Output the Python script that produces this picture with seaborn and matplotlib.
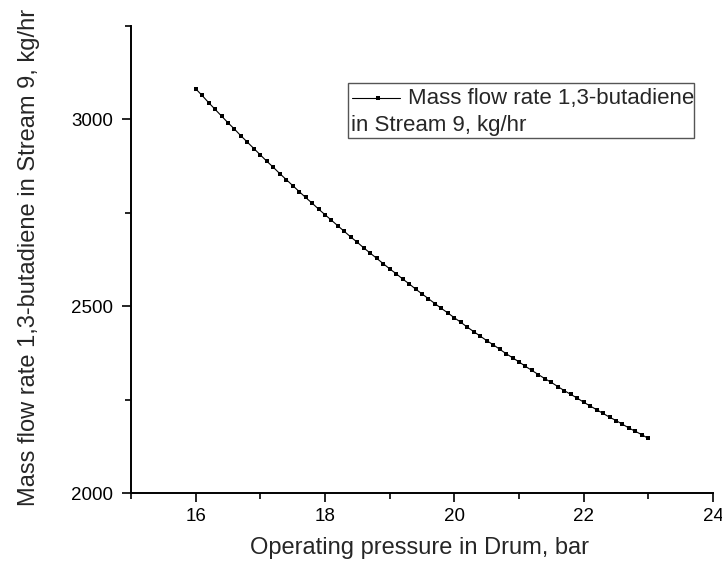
import matplotlib
matplotlib.use("Agg")
import matplotlib.pyplot as plt
import seaborn as sns
import pandas as pd
from matplotlib.lines import Line2D
from matplotlib.patches import Rectangle
from matplotlib.ticker import MultipleLocator

pressure = [round(16 + 0.1 * i, 1) for i in range(71)]
mass_flow = [3082, 3064, 3045, 3027, 3009, 2991, 2974, 2956, 2939, 2922,
             2905, 2888, 2872, 2855, 2839, 2823, 2807, 2791, 2776, 2760,
             2745, 2730, 2715, 2700, 2685, 2671, 2656, 2642, 2628, 2614,
             2600, 2587, 2573, 2560, 2546, 2533, 2520, 2507, 2494, 2482,
             2469, 2457, 2444, 2432, 2420, 2408, 2397, 2385, 2373, 2362,
             2351, 2339, 2328, 2317, 2306, 2296, 2285, 2274, 2264, 2254,
             2243, 2233, 2223, 2213, 2203, 2194, 2184, 2174, 2165, 2156,
             2146]
x_label = "Operating pressure in Drum, bar"
y_label = "Mass flow rate 1,3-butadiene in Stream 9, kg/hr"
legend_line1 = "Mass flow rate 1,3-butadiene"
legend_line2 = "in Stream 9, kg/hr"

sns.set_style("ticks")
plt.rcParams['font.family'] = ['Liberation Sans', 'DejaVu Sans']

df = pd.DataFrame({"p": pressure, "m": mass_flow})

fig = plt.figure(figsize=(7.22, 5.69), dpi=100)
ax = fig.add_axes([131 / 722, 1 - 493 / 569, (713 - 131) / 722, (493 - 26) / 569])

sns.lineplot(data=df, x="p", y="m", ax=ax, color="black", linewidth=0.8,
             marker="s", markersize=2.6, markeredgewidth=0, legend=False)

ax.set_xlim(15, 24)
ax.set_ylim(2000, 3250)
ax.xaxis.set_major_locator(MultipleLocator(2))
ax.xaxis.set_minor_locator(MultipleLocator(1))
ax.yaxis.set_major_locator(MultipleLocator(500))
ax.yaxis.set_minor_locator(MultipleLocator(250))
ax.set_xticks([16, 18, 20, 22, 24])
ax.set_yticks([2000, 2500, 3000])
ax.tick_params(axis="both", which="major", direction="out", length=6.5, width=1.2,
               labelsize=13.5, color="black", labelcolor="black")
ax.tick_params(axis="x", which="major", pad=4.5)
ax.tick_params(axis="y", which="major", pad=6.5)
ax.tick_params(axis="both", which="minor", direction="out", length=4, width=1.2, color="black")

for s in ["left", "bottom"]:
    ax.spines[s].set_linewidth(1.4)
    ax.spines[s].set_color("black")
sns.despine(ax=ax)

ax.set_xlabel(x_label, fontsize=17)
ax.set_ylabel(y_label, fontsize=17)
ax.xaxis.set_label_coords(0.496, -0.095)
ax.yaxis.set_label_coords(-0.1555, 0.505)

# legend box
ax.add_patch(Rectangle((0.3729, 0.7602), 0.9674 - 0.3729, 0.8779 - 0.7602,
                       transform=ax.transAxes, facecolor="white", edgecolor="#555555",
                       linewidth=1, zorder=5))
ax.text(0.4759, 0.8458, legend_line1, transform=ax.transAxes, fontsize=16,
        va="center", ha="left", zorder=6)
ax.text(0.378, 0.788, legend_line2, transform=ax.transAxes, fontsize=16,
        va="center", ha="left", zorder=6)
ax.add_line(Line2D([0.3797, 0.4622], [0.8458, 0.8458], transform=ax.transAxes,
                   color="black", linewidth=0.8, zorder=6))
ax.add_line(Line2D([0.4244], [0.8458], transform=ax.transAxes, color="black",
                   marker="s", markersize=2.6, markeredgewidth=0, linestyle="none", zorder=7))

fig.savefig("out.png", dpi=100)
